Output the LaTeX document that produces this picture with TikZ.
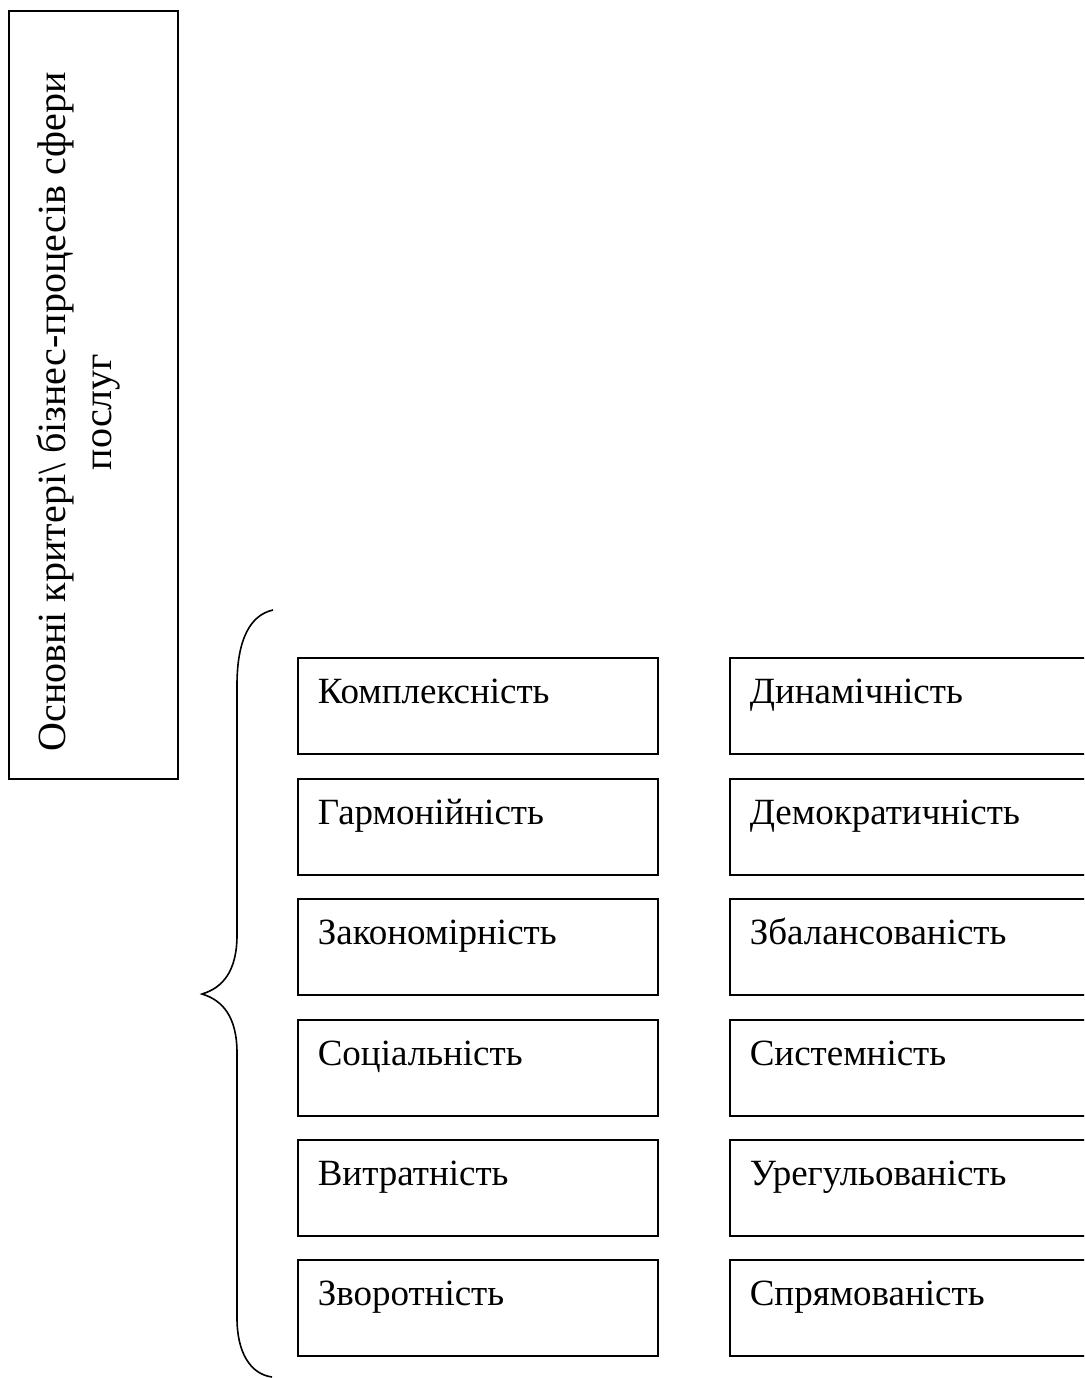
\documentclass[tikz,border=0pt]{standalone}
\usepackage{fontspec}
\setmainfont{Liberation Serif}
\begin{document}
\begin{tikzpicture}[x=1pt,y=-1pt,
  crit/.style={draw=black, line width=1.6pt, inner xsep=20pt, inner ysep=0pt,
    text width=320pt, text height=46pt, text depth=50pt, align=left,
    anchor=north west, font=\fontsize{37}{44}\selectfont},
  critr/.style={crit, text width=340pt},
  title/.style={draw=black, line width=1.6pt, minimum width=169pt, minimum height=768pt, anchor=north west},
  brace/.style={draw=black, line width=1.6pt}]
\useasboundingbox (0,0) rectangle (1084,1378);
\clip (0,0) rectangle (1084,1378);
\fill[white] (0,0) rectangle (1084,1378);
% left title box
\node[title] (tbox) at (8,10) {};
\node[rotate=90, align=center, font=\fontsize{40}{46}\selectfont] (ttext) at (78,412)
  {Основні критері\textbackslash{} бізнес-процесів сфери\\послуг};
% brace
\coordinate (bt) at (273,610);
\coordinate (bm) at (202,994);
\coordinate (bb) at (272,1377);
\draw[brace] (bt) .. controls (250,615) and (237,640) .. (237,685) -- (237,935)
  .. controls (237,972) and (222,988) .. (bm)
  .. controls (222,1000) and (237,1016) .. (237,1053) -- (237,1318)
  .. controls (237,1352) and (250,1374) .. (bb);
% left column
\node[crit] (l1) at (297,657) {Комплексність};
\node[crit] (l2) at (297,778) {Гармонійність};
\node[crit] (l3) at (297,898) {Закономірність};
\node[crit] (l4) at (297,1019) {Соціальність};
\node[crit] (l5) at (297,1139) {Витратність};
\node[crit] (l6) at (297,1259) {Зворотність};
% right column
\node[critr] (r1) at (729,657) {Динамічність};
\node[critr] (r2) at (729,778) {Демократичність};
\node[critr] (r3) at (729,898) {Збалансованість};
\node[critr] (r4) at (729,1019) {Системність};
\node[critr] (r5) at (729,1139) {Урегульованість};
\node[critr] (r6) at (729,1259) {Спрямованість};
\end{tikzpicture}
\end{document}
